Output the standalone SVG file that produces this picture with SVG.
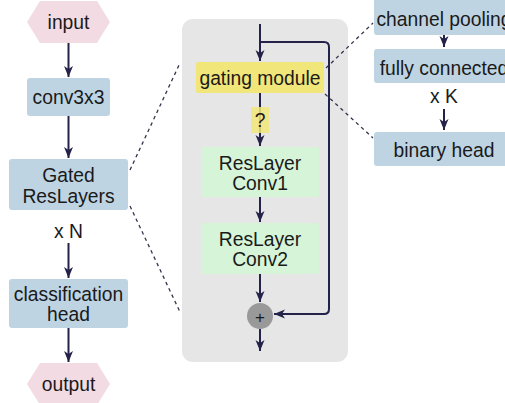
<svg xmlns="http://www.w3.org/2000/svg" width="505" height="403" viewBox="0 0 505 403">
<defs>
<style>
text{font-family:"Liberation Sans",Arial,sans-serif;font-size:19.3px;fill:#1a1a1a;text-anchor:middle}
.blue{fill:#bed4e3}
.pink{fill:#f3dbe3}
.yellow{fill:#f1e679}
.green{fill:#d6f4d7}
.conn{fill:none;stroke:#23234a;stroke-width:2}
.dash{fill:none;stroke:#33334d;stroke-width:1.3;stroke-dasharray:3.5 3.5}
</style>
<marker id="ah" markerUnits="userSpaceOnUse" markerWidth="12" markerHeight="10" refX="11" refY="5" orient="auto">
<path d="M0,0.5 L11,5 L0,9.5 L3,5 Z" fill="#23234a"/>
</marker>
</defs>
<rect id="panel" x="182" y="19" width="166" height="343" rx="11" fill="#e6e6e6"/>
<g id="input"><polygon class="pink" points="27,22 40,1 97,1 110,22 97,43 40,43"/><text x="68.5" y="28.5">input</text></g>
<g id="conv3x3"><rect class="blue" x="27" y="78" width="83" height="38" rx="3"/><text x="68.5" y="103.5">conv3x3</text></g>
<g id="gated"><rect class="blue" x="9" y="159" width="119" height="51" rx="3"/><text x="68.5" y="181.5">Gated</text><text x="68.5" y="202.5">ResLayers</text></g>
<g id="xn"><text x="68.5" y="237.5">x N</text></g>
<g id="classification"><rect class="blue" x="9" y="279" width="119" height="49" rx="3"/><text x="68.5" y="300.5">classification</text><text x="68.5" y="320.5">head</text></g>
<g id="output"><polygon class="pink" points="27,384 40,363 97,363 110,384 97,405 40,405"/><text x="68.5" y="390.5">output</text></g>
<g id="gating"><rect class="yellow" x="196" y="62" width="128" height="31" rx="2"/><text x="260" y="84.5">gating module</text></g>
<g id="conv1"><rect class="green" x="201" y="147" width="118" height="50" rx="2"/><text x="260" y="169.5">ResLayer</text><text x="260" y="189.5">Conv1</text></g>
<g id="conv2"><rect class="green" x="201" y="223" width="118" height="51" rx="2"/><text x="260" y="246">ResLayer</text><text x="260" y="265.5">Conv2</text></g>
<g id="channel"><rect class="blue" x="374" y="-3" width="140" height="38" rx="3"/><text x="444" y="26">channel pooling</text></g>
<g id="fc"><rect class="blue" x="374" y="49" width="140" height="34" rx="3"/><text x="444" y="75">fully connected</text></g>
<g id="xk"><text x="444" y="103">x K</text></g>
<g id="binary"><rect class="blue" x="374" y="132" width="140" height="34" rx="3"/><text x="444" y="157">binary head</text></g>
<g id="connectors">
<line class="conn" x1="68.5" y1="43" x2="68.5" y2="77" marker-end="url(#ah)"/>
<line class="conn" x1="68.5" y1="116" x2="68.5" y2="158" marker-end="url(#ah)"/>
<line class="conn" x1="68.5" y1="243" x2="68.5" y2="278" marker-end="url(#ah)"/>
<line class="conn" x1="68.5" y1="328" x2="68.5" y2="362" marker-end="url(#ah)"/>
<line class="conn" x1="260" y1="24" x2="260" y2="61" marker-end="url(#ah)"/>
<path class="conn" d="M260,42 H324 Q329,42 329,47 V309 Q329,314 324,314 H274" marker-end="url(#ah)"/>
<line class="conn" x1="260" y1="93" x2="260" y2="146" marker-end="url(#ah)"/>
<line class="conn" x1="260" y1="197" x2="260" y2="222" marker-end="url(#ah)"/>
<line class="conn" x1="260" y1="274" x2="260" y2="302" marker-end="url(#ah)"/>
<line class="conn" x1="260" y1="329" x2="260" y2="351" marker-end="url(#ah)"/>
<line class="conn" x1="444" y1="35" x2="444" y2="47" marker-end="url(#ah)"/>
<line class="conn" x1="444" y1="109" x2="444" y2="130" marker-end="url(#ah)"/>
<line class="dash" x1="130" y1="170" x2="180" y2="63"/>
<line class="dash" x1="130" y1="206" x2="180" y2="312"/>
<line class="dash" x1="326" y1="68" x2="373" y2="23"/>
<line class="dash" x1="325" y1="94" x2="373" y2="138"/>
</g>
<g id="qlabel"><rect class="yellow" x="251" y="107" width="18" height="26" opacity="0.85"/><text x="260" y="126.5">?</text></g>
<g id="plus"><circle cx="260" cy="316" r="13" fill="#999999"/><text x="260" y="322.5" style="font-size:17px">+</text></g>
</svg>
